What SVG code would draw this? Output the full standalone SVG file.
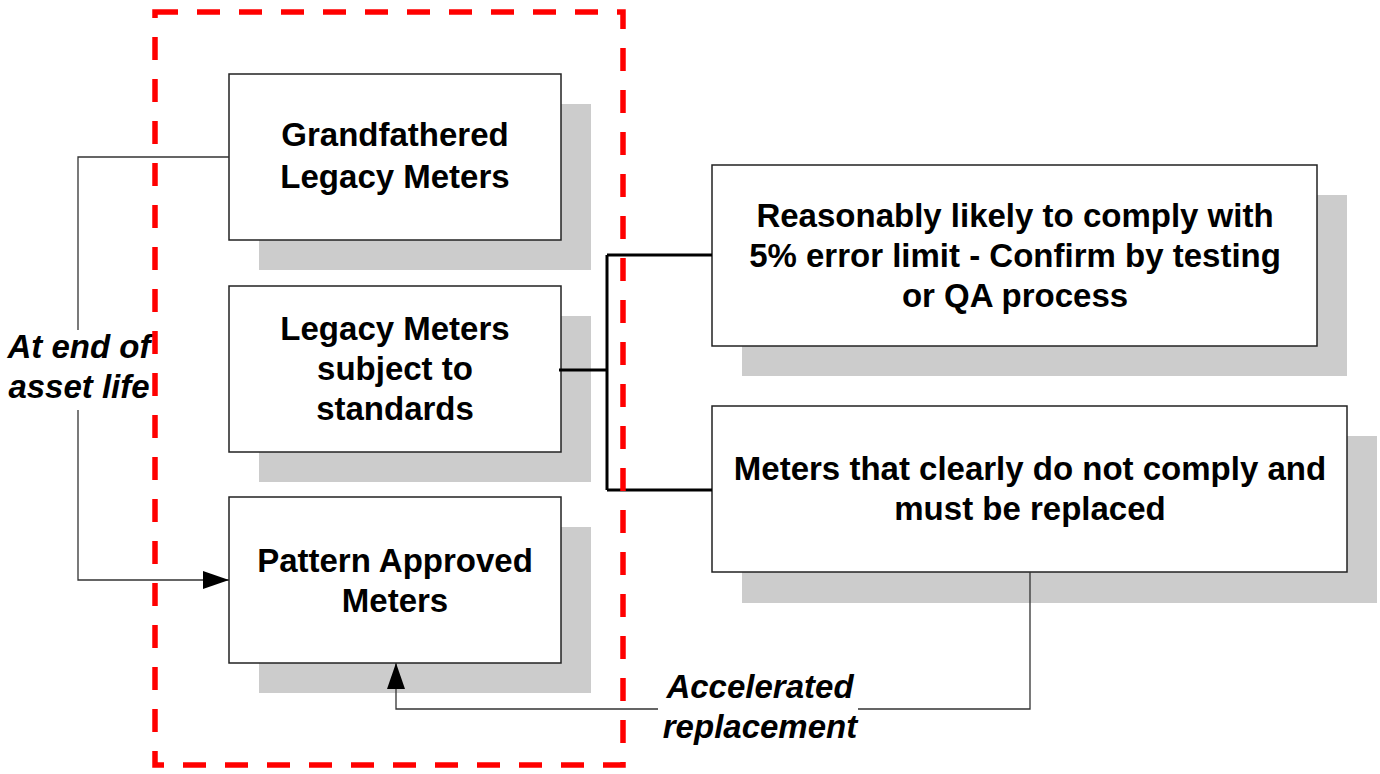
<svg xmlns="http://www.w3.org/2000/svg" width="1380" height="774" viewBox="0 0 1380 774">
<style>
.sh{fill:#cccccc;stroke:none}
.bx{fill:#ffffff;stroke:#222222;stroke-width:1.5}
.t{font-family:"Liberation Sans",Arial,sans-serif;font-weight:bold;font-size:33px;fill:#000000;text-anchor:middle}
.it{font-family:"Liberation Sans",Arial,sans-serif;font-weight:bold;font-style:italic;font-size:33px;fill:#000000;text-anchor:middle}
.thin{fill:none;stroke:#333333;stroke-width:1.3}
.thick{fill:none;stroke:#000000;stroke-width:3}
.red{fill:none;stroke:#ff0000;stroke-width:5.5;stroke-dasharray:23 19}
</style>
<defs>
<marker id="ah" viewBox="0 0 26 18" refX="26" refY="9" markerWidth="26" markerHeight="18" markerUnits="userSpaceOnUse" orient="auto">
<path d="M0,0 L26,9 L0,18 Z" fill="#000000"/>
</marker>
</defs>
<g id="node-grandfathered">
<rect class="sh" x="259" y="104" width="332" height="166"/>
<rect class="bx" x="229" y="74" width="332" height="166"/>
<text class="t" x="395" y="146">Grandfathered</text>
<text class="t" x="395" y="188">Legacy Meters</text>
</g>
<g id="node-legacy">
<rect class="sh" x="259" y="316" width="332" height="166"/>
<rect class="bx" x="229" y="286" width="332" height="166"/>
<text class="t" x="395" y="340">Legacy Meters</text>
<text class="t" x="395" y="380">subject to</text>
<text class="t" x="395" y="420">standards</text>
</g>
<g id="node-pattern">
<rect class="sh" x="259" y="527" width="332" height="166"/>
<rect class="bx" x="229" y="497" width="332" height="166"/>
<text class="t" x="395" y="572">Pattern Approved</text>
<text class="t" x="395" y="612">Meters</text>
</g>
<g id="node-reasonably">
<rect class="sh" x="742" y="195" width="605" height="181"/>
<rect class="bx" x="712" y="165" width="605" height="181"/>
<text class="t" x="1015" y="227">Reasonably likely to comply with</text>
<text class="t" x="1015" y="267">5% error limit - Confirm by testing</text>
<text class="t" x="1015" y="307">or QA process</text>
</g>
<g id="node-notcomply">
<rect class="sh" x="742" y="436" width="635" height="167"/>
<rect class="bx" x="712" y="406" width="635" height="166"/>
<text class="t" x="1030" y="480">Meters that clearly do not comply and</text>
<text class="t" x="1030" y="520">must be replaced</text>
</g>
<g id="connectors">
<path class="thin" d="M229,157 H78 V330"/>
<path class="thin" d="M78,410 V580 H229" marker-end="url(#ah)"/>
<path class="thick" d="M559,370 H607 M607,255 V490 M607,255 H712 M607,490 H712"/>
<path class="thin" d="M1030,572 V709 H858"/>
<path class="thin" d="M658,709 H396 V663" marker-end="url(#ah)"/>
<text class="it" x="79" y="358">At end of</text>
<text class="it" x="79" y="398">asset life</text>
<text class="it" x="760" y="698">Accelerated</text>
<text class="it" x="760" y="738">replacement</text>
</g>
<g id="boundary">
<rect class="red" x="155" y="12" width="468" height="753"/>
</g>
</svg>
